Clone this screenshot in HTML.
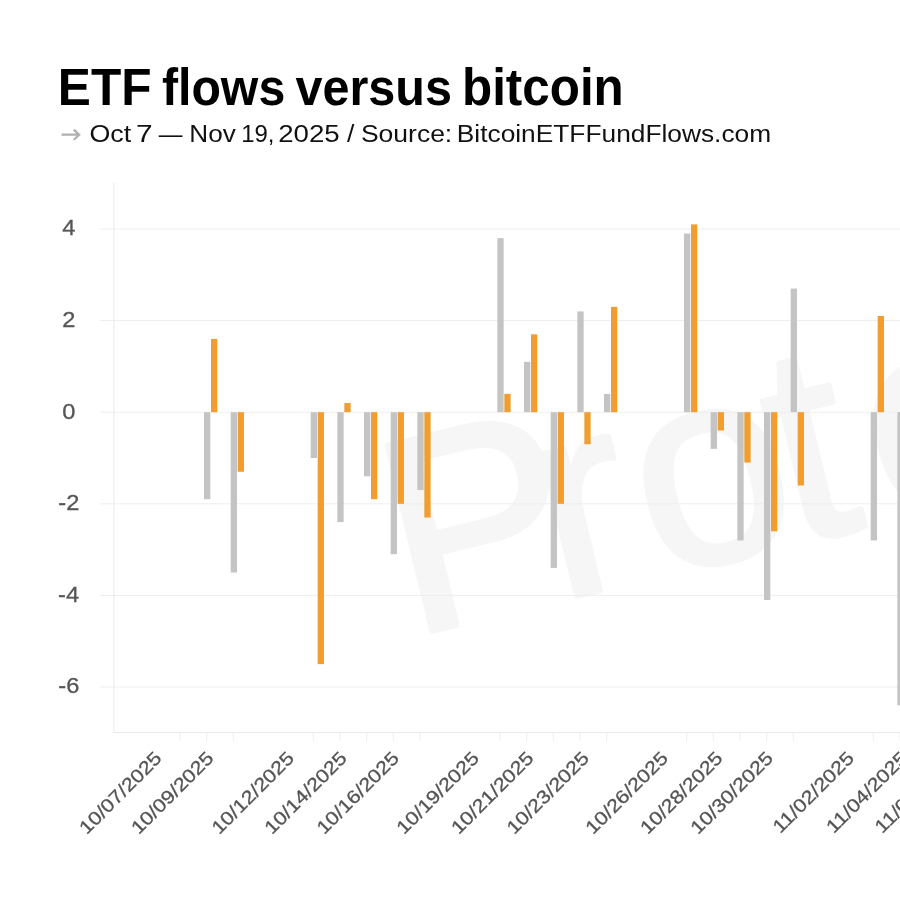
<!DOCTYPE html>
<html><head><meta charset="utf-8"><title>ETF flows versus bitcoin</title>
<style>
html,body{margin:0;padding:0;background:#fff;}
body{width:900px;height:900px;overflow:hidden;position:relative;font-family:"Liberation Sans",sans-serif;}
svg{position:absolute;left:0;top:0;will-change:transform;}
text{font-family:"Liberation Sans",sans-serif;}
.t{font-weight:bold;font-size:51.2px;fill:#000;}
.s{font-size:23.8px;fill:#111;}
.yl{font-size:21.5px;fill:#555;stroke:#555;stroke-width:0.3px;}
.xl{font-size:18.7px;fill:#555;stroke:#555;stroke-width:0.3px;}
.wm{font-size:278px;fill:#f6f6f6;stroke:#f6f6f6;stroke-width:5;stroke-linejoin:round;}
</style></head><body>
<svg width="900" height="900" viewBox="0 0 900 900">
<rect width="900" height="900" fill="#fff"/>
<text class="wm" transform="translate(409.7,636.6) rotate(-13.5)">P<tspan dx="-33">r</tspan><tspan dx="8">o</tspan><tspan dx="-14">t</tspan><tspan dx="19">o</tspan><tspan dx="0">s</tspan></text>
<line x1="100" y1="229.00" x2="900" y2="229.00" stroke="#eeeeee" stroke-width="1"/>
<line x1="100" y1="320.60" x2="900" y2="320.60" stroke="#eeeeee" stroke-width="1"/>
<line x1="100" y1="412.20" x2="900" y2="412.20" stroke="#eeeeee" stroke-width="1"/>
<line x1="100" y1="503.80" x2="900" y2="503.80" stroke="#eeeeee" stroke-width="1"/>
<line x1="100" y1="595.40" x2="900" y2="595.40" stroke="#eeeeee" stroke-width="1"/>
<line x1="100" y1="687.00" x2="900" y2="687.00" stroke="#eeeeee" stroke-width="1"/>
<line x1="113.9" y1="183" x2="113.9" y2="732.8" stroke="#ebebeb" stroke-width="1"/>
<line x1="113.4" y1="732.5" x2="900" y2="732.5" stroke="#ebebeb" stroke-width="1"/>
<line x1="180.00" y1="732.5" x2="180.00" y2="741" stroke="#eeeeee" stroke-width="1"/>
<line x1="206.66" y1="732.5" x2="206.66" y2="741" stroke="#eeeeee" stroke-width="1"/>
<line x1="233.33" y1="732.5" x2="233.33" y2="741" stroke="#eeeeee" stroke-width="1"/>
<line x1="313.33" y1="732.5" x2="313.33" y2="741" stroke="#eeeeee" stroke-width="1"/>
<line x1="340.00" y1="732.5" x2="340.00" y2="741" stroke="#eeeeee" stroke-width="1"/>
<line x1="366.67" y1="732.5" x2="366.67" y2="741" stroke="#eeeeee" stroke-width="1"/>
<line x1="393.33" y1="732.5" x2="393.33" y2="741" stroke="#eeeeee" stroke-width="1"/>
<line x1="420.00" y1="732.5" x2="420.00" y2="741" stroke="#eeeeee" stroke-width="1"/>
<line x1="500.00" y1="732.5" x2="500.00" y2="741" stroke="#eeeeee" stroke-width="1"/>
<line x1="526.67" y1="732.5" x2="526.67" y2="741" stroke="#eeeeee" stroke-width="1"/>
<line x1="553.34" y1="732.5" x2="553.34" y2="741" stroke="#eeeeee" stroke-width="1"/>
<line x1="580.00" y1="732.5" x2="580.00" y2="741" stroke="#eeeeee" stroke-width="1"/>
<line x1="606.67" y1="732.5" x2="606.67" y2="741" stroke="#eeeeee" stroke-width="1"/>
<line x1="686.67" y1="732.5" x2="686.67" y2="741" stroke="#eeeeee" stroke-width="1"/>
<line x1="713.34" y1="732.5" x2="713.34" y2="741" stroke="#eeeeee" stroke-width="1"/>
<line x1="740.00" y1="732.5" x2="740.00" y2="741" stroke="#eeeeee" stroke-width="1"/>
<line x1="766.67" y1="732.5" x2="766.67" y2="741" stroke="#eeeeee" stroke-width="1"/>
<line x1="793.34" y1="732.5" x2="793.34" y2="741" stroke="#eeeeee" stroke-width="1"/>
<line x1="873.34" y1="732.5" x2="873.34" y2="741" stroke="#eeeeee" stroke-width="1"/>
<line x1="900.01" y1="732.5" x2="900.01" y2="741" stroke="#eeeeee" stroke-width="1"/>
<rect x="204.00" y="412.20" width="6.3" height="87.02" fill="#c4c4c4"/>
<rect x="211.00" y="338.92" width="6.3" height="73.28" fill="#f29d30"/>
<rect x="230.67" y="412.20" width="6.3" height="160.30" fill="#c4c4c4"/>
<rect x="237.67" y="412.20" width="6.3" height="59.54" fill="#f29d30"/>
<rect x="310.67" y="412.20" width="6.3" height="45.80" fill="#c4c4c4"/>
<rect x="317.67" y="412.20" width="6.3" height="251.90" fill="#f29d30"/>
<rect x="337.34" y="412.20" width="6.3" height="109.92" fill="#c4c4c4"/>
<rect x="344.34" y="403.04" width="6.3" height="9.16" fill="#f29d30"/>
<rect x="364.01" y="412.20" width="6.3" height="64.12" fill="#c4c4c4"/>
<rect x="371.01" y="412.20" width="6.3" height="87.02" fill="#f29d30"/>
<rect x="390.67" y="412.20" width="6.3" height="141.98" fill="#c4c4c4"/>
<rect x="397.67" y="412.20" width="6.3" height="91.60" fill="#f29d30"/>
<rect x="417.34" y="412.20" width="6.3" height="77.86" fill="#c4c4c4"/>
<rect x="424.34" y="412.20" width="6.3" height="105.34" fill="#f29d30"/>
<rect x="497.34" y="238.16" width="6.3" height="174.04" fill="#c4c4c4"/>
<rect x="504.34" y="393.88" width="6.3" height="18.32" fill="#f29d30"/>
<rect x="524.01" y="361.82" width="6.3" height="50.38" fill="#c4c4c4"/>
<rect x="531.01" y="334.34" width="6.3" height="77.86" fill="#f29d30"/>
<rect x="550.67" y="412.20" width="6.3" height="155.72" fill="#c4c4c4"/>
<rect x="557.67" y="412.20" width="6.3" height="91.60" fill="#f29d30"/>
<rect x="577.34" y="311.44" width="6.3" height="100.76" fill="#c4c4c4"/>
<rect x="584.34" y="412.20" width="6.3" height="32.06" fill="#f29d30"/>
<rect x="604.01" y="393.88" width="6.3" height="18.32" fill="#c4c4c4"/>
<rect x="611.01" y="306.86" width="6.3" height="105.34" fill="#f29d30"/>
<rect x="684.01" y="233.58" width="6.3" height="178.62" fill="#c4c4c4"/>
<rect x="691.01" y="224.42" width="6.3" height="187.78" fill="#f29d30"/>
<rect x="710.68" y="412.20" width="6.3" height="36.64" fill="#c4c4c4"/>
<rect x="717.68" y="412.20" width="6.3" height="18.32" fill="#f29d30"/>
<rect x="737.34" y="412.20" width="6.3" height="128.24" fill="#c4c4c4"/>
<rect x="744.34" y="412.20" width="6.3" height="50.38" fill="#f29d30"/>
<rect x="764.01" y="412.20" width="6.3" height="187.78" fill="#c4c4c4"/>
<rect x="771.01" y="412.20" width="6.3" height="119.08" fill="#f29d30"/>
<rect x="790.68" y="288.54" width="6.3" height="123.66" fill="#c4c4c4"/>
<rect x="797.68" y="412.20" width="6.3" height="73.28" fill="#f29d30"/>
<rect x="870.68" y="412.20" width="6.3" height="128.24" fill="#c4c4c4"/>
<rect x="877.68" y="316.02" width="6.3" height="96.18" fill="#f29d30"/>
<rect x="897.35" y="412.20" width="6.3" height="293.12" fill="#c4c4c4"/>
<text class="yl" transform="translate(62.27,235.30) scale(1.1,1)">4</text>
<text class="yl" transform="translate(62.20,326.90) scale(1.1,1)">2</text>
<text class="yl" transform="translate(62.20,418.50) scale(1.1,1)">0</text>
<text class="yl" transform="translate(58.35,510.10) scale(1.1,1)">-2</text>
<text class="yl" transform="translate(58.07,601.70) scale(1.1,1)">-4</text>
<text class="yl" transform="translate(58.28,693.30) scale(1.1,1)">-6</text>
<text class="xl" transform="translate(162.80,759.3) rotate(-45) scale(1.15,1)" text-anchor="end">10/07/2025</text>
<text class="xl" transform="translate(214.70,759.3) rotate(-45) scale(1.15,1)" text-anchor="end">10/09/2025</text>
<text class="xl" transform="translate(295.20,759.3) rotate(-45) scale(1.15,1)" text-anchor="end">10/12/2025</text>
<text class="xl" transform="translate(348.00,759.3) rotate(-45) scale(1.15,1)" text-anchor="end">10/14/2025</text>
<text class="xl" transform="translate(400.20,759.3) rotate(-45) scale(1.15,1)" text-anchor="end">10/16/2025</text>
<text class="xl" transform="translate(480.10,759.3) rotate(-45) scale(1.15,1)" text-anchor="end">10/19/2025</text>
<text class="xl" transform="translate(534.70,759.3) rotate(-45) scale(1.15,1)" text-anchor="end">10/21/2025</text>
<text class="xl" transform="translate(590.20,759.3) rotate(-45) scale(1.15,1)" text-anchor="end">10/23/2025</text>
<text class="xl" transform="translate(669.10,759.3) rotate(-45) scale(1.15,1)" text-anchor="end">10/26/2025</text>
<text class="xl" transform="translate(723.80,759.3) rotate(-45) scale(1.15,1)" text-anchor="end">10/28/2025</text>
<text class="xl" transform="translate(774.10,759.3) rotate(-45) scale(1.15,1)" text-anchor="end">10/30/2025</text>
<text class="xl" transform="translate(855.20,759.3) rotate(-45) scale(1.15,1)" text-anchor="end">11/02/2025</text>
<text class="xl" transform="translate(908.60,759.3) rotate(-45) scale(1.15,1)" text-anchor="end">11/04/2025</text>
<text class="xl" transform="translate(957.30,759.3) rotate(-45) scale(1.15,1)" text-anchor="end">11/06/2025</text>
<text class="t" transform="translate(57.83,105.4) scale(0.9689,1)">ETF</text>
<text class="t" transform="translate(161.93,105.4) scale(0.9423,1)">flows</text>
<text class="t" transform="translate(295.51,105.4) scale(0.9478,1)">versus</text>
<text class="t" transform="translate(462.00,105.4) scale(0.9643,1)">bitcoin</text>
<path d="M61.5 134.7 H79 M73.8 129.6 L79.2 134.7 L73.8 139.8" fill="none" stroke="#b0b0b0" stroke-width="2.2" stroke-linejoin="miter"/>
<text class="s" transform="translate(89.43,141.8) scale(1.1273,1)">Oct</text>
<text class="s" transform="translate(135.93,141.8) scale(1.2558,1)">7</text>
<text class="s" transform="translate(158.70,141.8) scale(0.9979,1)">—</text>
<text class="s" transform="translate(189.30,141.8) scale(1.0981,1)">Nov</text>
<text class="s" transform="translate(241.21,141.8) scale(1.0060,1)">19,</text>
<text class="s" transform="translate(278.15,141.8) scale(1.1626,1)">2025</text>
<text class="s" transform="translate(347.09,141.8) scale(1.1200,1)">/</text>
<text class="s" transform="translate(360.95,141.8) scale(1.1137,1)">Source:</text>
<text class="s" transform="translate(456.79,141.8) scale(1.1060,1)">BitcoinETFFundFlows.com</text>
</svg>
</body></html>
